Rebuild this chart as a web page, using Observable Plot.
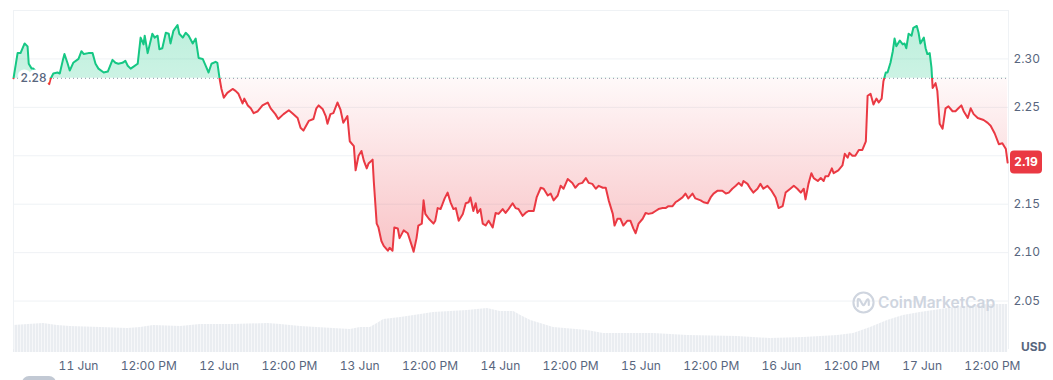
<!DOCTYPE html>
<html><head><meta charset="utf-8">
<script src="https://cdn.jsdelivr.net/npm/d3@7"></script>
<script src="https://cdn.jsdelivr.net/npm/@observablehq/plot@0.6"></script>
<style>
html,body{margin:0;padding:0;background:#fff;}
#wrap{position:relative;width:1053px;height:380px;overflow:hidden;font-family:Inter,"Noto Sans",sans-serif;}
#wrap > svg{position:absolute;left:0;top:0;}
#usd{position:absolute;left:1021px;top:339px;font-size:12px;font-weight:700;color:#58667e;}
#wm{position:absolute;left:852px;top:291px;display:flex;align-items:center;gap:3px;color:#cfd5df;font-size:15.5px;font-weight:600;}
#btn{position:absolute;left:22px;top:376px;width:34px;height:14px;border-radius:8px;background:#c2c9d4;}
</style></head><body><div id="wrap"></div>
<script>
// ---- data (hours since 11 Jun 00:00 UTC, price in USD) ----
const baseUTC = Date.UTC(2025, 5, 11, 0, 0);
const baselinePrice = 2.28;
const priceReadings = [
[-11.1,2.280],[-10.4,2.306],[-9.9,2.306],[-9.2,2.316],[-8.7,2.313],[-8.5,2.295],[-8.0,2.290],[-7.7,2.290],
[-5.0,2.274],[-4.8,2.279],[-4.3,2.285],[-3.6,2.286],[-3.2,2.285],[-2.7,2.298],[-2.4,2.305],[-1.9,2.296],[-1.5,2.288],[-0.9,2.296],
[0,2.300],[0.5,2.308],[0.9,2.305],[1.7,2.306],[2.4,2.306],[2.9,2.295],[3.4,2.290],[4.3,2.286],[5.0,2.287],[5.8,2.299],
[6.3,2.296],[6.8,2.295],[7.5,2.296],[8.0,2.298],[8.4,2.293],[8.9,2.290],[9.4,2.292],[10.1,2.295],[10.6,2.322],[11.1,2.315],
[11.3,2.324],[11.8,2.306],[12.6,2.326],[13.0,2.322],[13.5,2.324],[13.8,2.310],[14.3,2.311],[14.9,2.327],[15.4,2.326],[15.7,2.316],
[16.2,2.329],[16.9,2.335],[17.2,2.326],[17.8,2.322],[18.3,2.327],[18.8,2.324],[19.5,2.316],[20.0,2.321],[20.5,2.301],[21.2,2.300],
[21.7,2.293],[22.2,2.286],[22.7,2.295],[23.4,2.297],[23.7,2.296],[24.1,2.279],[24.4,2.269],[24.8,2.260],[25.4,2.265],[26.3,2.269],
[26.8,2.267],[27.3,2.264],[28.0,2.254],[28.3,2.259],[28.9,2.252],[29.4,2.249],[29.9,2.244],[30.6,2.246],[31.4,2.252],[32.3,2.255],
[32.8,2.249],[33.6,2.243],[34.1,2.238],[35.0,2.243],[35.9,2.247],[36.5,2.244],[37.4,2.239],[37.9,2.229],[38.4,2.226],[39.3,2.236],
[40.1,2.238],[40.6,2.249],[41.0,2.252],[41.7,2.248],[42.2,2.241],[42.5,2.233],[43.0,2.243],[43.5,2.244],[44.2,2.255],[44.7,2.248],
[45.2,2.234],[45.9,2.241],[46.3,2.215],[47.0,2.210],[47.3,2.185],[47.8,2.200],[48.3,2.205],[48.7,2.195],[49.2,2.187],[49.5,2.192],
[50.2,2.196],[50.4,2.174],[50.9,2.130],[51.2,2.126],[51.7,2.112],[52.1,2.107],[52.8,2.102],[53.1,2.105],[53.6,2.102],[53.9,2.126],
[54.5,2.125],[54.8,2.115],[55.5,2.123],[56.2,2.120],[56.9,2.107],[57.2,2.101],[57.7,2.115],[58.0,2.128],[58.6,2.130],[58.9,2.154],
[59.2,2.140],[59.8,2.135],[60.6,2.130],[60.9,2.133],[61.3,2.146],[61.8,2.145],[62.5,2.156],[63.0,2.162],[63.5,2.152],[64.0,2.145],
[64.4,2.146],[64.9,2.133],[65.6,2.140],[66.1,2.151],[66.6,2.152],[66.9,2.157],[67.4,2.143],[67.8,2.151],[68.1,2.141],[68.6,2.145],
[69.0,2.130],[69.5,2.128],[70.0,2.133],[70.7,2.126],[71.2,2.141],[71.7,2.140],[72.4,2.145],[72.9,2.141],[73.4,2.145],[74.1,2.151],
[74.6,2.146],[75.1,2.145],[75.8,2.138],[76.3,2.141],[76.8,2.143],[77.7,2.143],[78.2,2.157],[78.9,2.167],[79.4,2.166],[80.1,2.159],
[80.6,2.161],[81.1,2.154],[81.8,2.159],[82.3,2.169],[82.8,2.166],[83.5,2.176],[84.3,2.172],[84.8,2.167],[85.4,2.171],[86.0,2.172],
[86.6,2.177],[87.1,2.172],[87.7,2.171],[88.3,2.166],[88.8,2.169],[89.5,2.167],[90.0,2.167],[90.5,2.154],[91.2,2.140],[91.5,2.128],
[92.0,2.135],[92.5,2.135],[93.0,2.128],[93.7,2.133],[94.2,2.133],[94.7,2.125],[95.1,2.120],[95.6,2.130],[96.3,2.135],[96.8,2.141],
[97.3,2.140],[98.0,2.141],[98.5,2.143],[99.0,2.145],[99.7,2.146],[100.2,2.146],[100.7,2.148],[101.4,2.148],[101.9,2.152],[102.4,2.154],
[103.1,2.157],[103.6,2.161],[104.1,2.156],[104.8,2.161],[105.3,2.156],[106.2,2.154],[106.7,2.152],[107.4,2.151],[107.9,2.157],[108.4,2.161],
[109.1,2.164],[109.9,2.164],[110.5,2.161],[111.0,2.162],[111.6,2.166],[112.2,2.169],[112.7,2.172],[113.2,2.169],[113.5,2.174],[114.2,2.171],
[114.7,2.166],[115.2,2.162],[115.9,2.166],[116.4,2.171],[116.9,2.166],[117.6,2.169],[118.3,2.164],[119.0,2.157],[119.5,2.146],[120.2,2.148],
[120.7,2.162],[121.5,2.166],[122.1,2.169],[122.7,2.166],[123.3,2.162],[123.8,2.166],[124.1,2.155],[124.6,2.171],[125.1,2.182],[125.5,2.177],
[126.2,2.174],[126.7,2.177],[127.2,2.174],[127.5,2.179],[128.0,2.179],[128.6,2.187],[128.9,2.182],[129.7,2.185],[130.4,2.190],[130.8,2.202],
[131.3,2.198],[131.6,2.203],[132.1,2.200],[132.6,2.200],[133.2,2.206],[133.8,2.206],[134.4,2.215],[134.7,2.262],[135.2,2.264],[135.7,2.253],
[136.2,2.259],[136.6,2.255],[137.1,2.259],[137.4,2.277],[137.8,2.286],[138.1,2.286],[138.6,2.296],[139.0,2.308],[139.3,2.321],[139.6,2.313],
[140.2,2.319],[140.7,2.315],[141.0,2.316],[141.3,2.311],[141.7,2.326],[142.2,2.324],[142.5,2.332],[143.1,2.334],[143.4,2.327],[143.7,2.316],
[144.3,2.322],[144.6,2.311],[144.9,2.305],[145.3,2.306],[145.6,2.291],[145.8,2.270],[146.3,2.275],[146.6,2.267],[147.0,2.233],[147.5,2.228],
[148.0,2.249],[148.5,2.251],[149.2,2.246],[149.7,2.246],[150.2,2.249],[150.7,2.252],[151.1,2.246],[151.8,2.239],[152.3,2.249],[152.8,2.243],
[153.5,2.239],[154.0,2.238],[154.5,2.237],[155.2,2.234],[155.7,2.231],[156.4,2.223],[157.1,2.212],[157.7,2.213],[158.3,2.207],[158.6,2.193]
];
// volume (billions USD, relative)
const volumeReadings = [
[-11.1,2.7],[-6.0,2.9],[-3.6,2.7],[-1.4,2.6],[3.8,2.5],[8.4,2.4],[10.6,2.5],[12.8,2.7],[17.4,2.6],[20.8,2.8],
[26.5,2.8],[32.3,2.9],[34.5,2.8],[37.9,2.6],[43.5,2.4],[46.4,2.3],[48.1,2.5],[49.8,2.5],[51.0,2.9],[52.1,3.3],
[55.0,3.5],[58.4,3.8],[60.6,4.0],[66.4,4.2],[69.8,4.4],[72.0,4.1],[74.3,4.1],[75.5,3.7],[77.2,3.2],[81.1,2.5],
[86.9,2.2],[89.6,1.9],[98.2,1.9],[104.0,1.7],[112.5,1.6],[118.1,1.4],[123.8,1.5],[129.6,1.7],[132.3,1.9],[135.2,2.5],
[138.1,3.2],[140.8,3.7],[143.7,4.0],[149.4,4.5],[155.2,4.8],[158.6,4.8]
];
const yTickValues = [2.05, 2.10, 2.15, 2.25, 2.30];
const gridValues = [2.05, 2.10, 2.15, 2.20, 2.25, 2.30, 2.35];
const yDomain = [2.0, 2.35];
const xTickHours = [0, 12, 24, 36, 48, 60, 72, 84, 96, 108, 120, 132, 144, 156];
const xTickLabels = ["11 Jun","12:00 PM","12 Jun","12:00 PM","13 Jun","12:00 PM","14 Jun","12:00 PM","15 Jun","12:00 PM","16 Jun","12:00 PM","17 Jun","12:00 PM"];
const domainHours = [-11.1, 158.75];

// ---- build ----
const toDate = h => new Date(baseUTC + h * 3600e3);
const prices = priceReadings.map(([h, p]) => ({t: toDate(h), p}));
const volumes = volumeReadings.map(([h, v]) => ({t: toDate(h), v}));
const xDomain = domainHours.map(toDate);
const tickDates = xTickHours.map(toDate);
const labelByTime = new Map(tickDates.map((d, i) => [+d, xTickLabels[i]]));
const GREEN = "#16c784", RED = "#ea3943";
const ns = "http://www.w3.org/2000/svg";
const W = 1053, H = 380;
const common = {width: W, height: H, marginLeft: 13, marginRight: 45,
  style: {fontFamily: "Inter, 'Noto Sans', sans-serif", fontSize: "12px", color: "#58667e", background: "transparent", overflow: "visible"}};

function volumeDefs() {
  const g = document.createElementNS(ns, "g");
  g.innerHTML = `<defs><pattern id="volPat" patternUnits="userSpaceOnUse" width="3" height="10">
    <rect width="3" height="10" fill="#f6f7f9"/><rect width="2" height="10" fill="#eaedf1"/></pattern></defs>`;
  return g;
}

const volPlot = Plot.plot({
  ...common, marginTop: 302, marginBottom: 28,
  x: {type: "time", domain: xDomain, axis: null},
  y: {domain: [0, 5], axis: null},
  marks: [
    volumeDefs,
    Plot.areaY(volumes, {x: "t", y: "v", fill: "url(#volPat)"})
  ]
});

function priceDefs(index, scales, values, dims) {
  const h = dims.height;
  const y0 = scales.y(baselinePrice) / h;
  const yTop = scales.y(yDomain[1]) / h;
  const yLow = scales.y(2.10) / h;
  const g = document.createElementNS(ns, "g");
  g.innerHTML = `<defs>
    <linearGradient id="lineGrad" gradientUnits="userSpaceOnUse" x1="0" y1="0" x2="0" y2="${h}">
      <stop offset="0" stop-color="${GREEN}"/><stop offset="${y0}" stop-color="${GREEN}"/>
      <stop offset="${y0}" stop-color="${RED}"/><stop offset="1" stop-color="${RED}"/>
    </linearGradient>
    <linearGradient id="areaGrad" gradientUnits="userSpaceOnUse" x1="0" y1="0" x2="0" y2="${h}">
      <stop offset="${yTop}" stop-color="${GREEN}" stop-opacity="0.3"/>
      <stop offset="${y0}" stop-color="${GREEN}" stop-opacity="0.22"/>
      <stop offset="${y0}" stop-color="${RED}" stop-opacity="0.03"/>
      <stop offset="${yLow}" stop-color="${RED}" stop-opacity="0.3"/>
      <stop offset="1" stop-color="${RED}" stop-opacity="0.3"/>
    </linearGradient></defs>`;
  return g;
}

function priceBadge(index, scales, values, dims) {
  const last = priceReadings[priceReadings.length - 1][1];
  const cy = scales.y(last);
  const x0 = dims.width - dims.marginRight + 2;
  const g = document.createElementNS(ns, "g");
  g.innerHTML = `<rect x="${x0}" y="${cy - 11.5}" width="32" height="23" rx="4" fill="${RED}"/>
    <text x="${x0 + 16}" y="${cy}" dy="0.36em" text-anchor="middle" fill="#fff" font-weight="700" font-size="12">${last.toFixed(2)}</text>`;
  return g;
}

const pricePlot = Plot.plot({
  ...common, marginTop: 10, marginBottom: 31,
  x: {type: "time", domain: xDomain, label: null},
  y: {domain: yDomain, label: null},
  marks: [
    priceDefs,
    Plot.gridY(gridValues, {stroke: "#eff2f5", strokeOpacity: 1}),
    Plot.ruleX(xDomain, {stroke: "#eff2f5", strokeOpacity: 1}),
    Plot.areaY(prices, {x: "t", y1: baselinePrice, y2: "p", fill: "url(#areaGrad)"}),
    Plot.ruleY([baselinePrice], {stroke: "#8a94a6", strokeDasharray: "1,3", strokeWidth: 1}),
    Plot.line(prices, {x: "t", y: "p", stroke: "url(#lineGrad)", strokeWidth: 2, strokeLinejoin: "round"}),
    Plot.text([baselinePrice], {frameAnchor: "left", y: d => d, text: d => d.toFixed(2), dx: 7, textAnchor: "start",
      fill: "#58667e", fontWeight: 500, fontSize: 12, stroke: "white", strokeWidth: 7, strokeLinejoin: "round"}),
    Plot.axisX({ticks: tickDates, tickFormat: d => labelByTime.get(+d), tickSize: 0, tickPadding: 12, fill: "#58667e", label: null}),
    Plot.axisY({anchor: "right", ticks: yTickValues, tickFormat: d => d.toFixed(2), tickSize: 0, tickPadding: 5, textAnchor: "start", fill: "#58667e", label: null}),
    priceBadge
  ]
});

const wrap = document.getElementById("wrap");
wrap.appendChild(volPlot);
wrap.appendChild(pricePlot);
wrap.insertAdjacentHTML("beforeend", `
  <div id="wm"><svg width="23" height="23" viewBox="0 0 24 24"><circle cx="12" cy="12" r="10.5" fill="none" stroke="#cfd5df" stroke-width="2.2"/>
  <path d="M6 16 V9.5 Q6 7.5 8 8.8 L11 14 Q12 15.5 13 14 L15.5 9.5 Q17 7.5 17.5 10 V14.5" fill="none" stroke="#cfd5df" stroke-width="2.2" stroke-linecap="round" stroke-linejoin="round"/></svg><span>CoinMarketCap</span></div>
  <div id="usd">USD</div>
  <div id="btn"></div>`);
</script>
</body></html>
